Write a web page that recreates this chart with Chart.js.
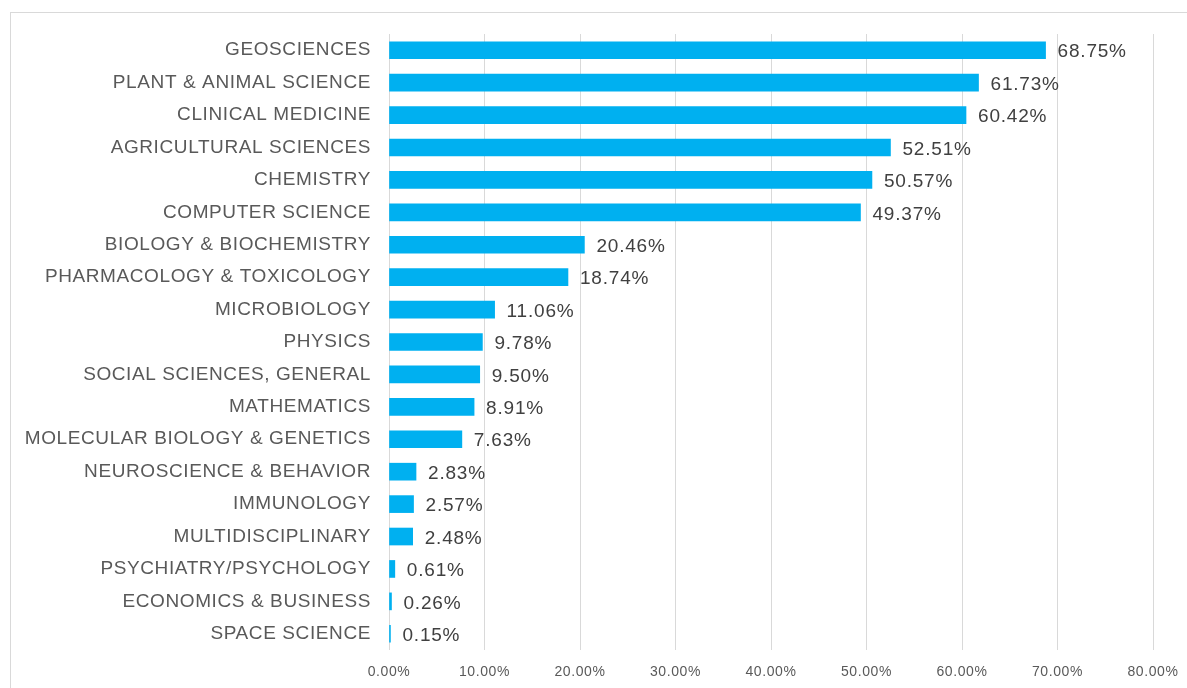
<!DOCTYPE html>
<html>
<head>
<meta charset="utf-8">
<script src="https://cdn.jsdelivr.net/npm/chart.js@4/dist/chart.umd.min.js"></script>
<style>
  html, body { margin: 0; padding: 0; background: #fff; overflow: hidden; }
  #wrap { position: relative; width: 1187px; height: 688px; }
  #frame { position: absolute; left: 10px; top: 12px; width: 1200px; height: 700px; border: 1px solid #d9d9d9; box-sizing: border-box; }
  canvas { position: absolute; left: 0; top: 0; }
</style>
</head>
<body>
<div id="wrap">
  <div id="frame"></div>
  <canvas id="barChart" width="1187" height="688"></canvas>
</div>
<script>
const categories = [
  'GEOSCIENCES', 'PLANT & ANIMAL SCIENCE', 'CLINICAL MEDICINE', 'AGRICULTURAL SCIENCES',
  'CHEMISTRY', 'COMPUTER SCIENCE', 'BIOLOGY & BIOCHEMISTRY', 'PHARMACOLOGY & TOXICOLOGY',
  'MICROBIOLOGY', 'PHYSICS', 'SOCIAL SCIENCES, GENERAL', 'MATHEMATICS',
  'MOLECULAR BIOLOGY & GENETICS', 'NEUROSCIENCE & BEHAVIOR', 'IMMUNOLOGY', 'MULTIDISCIPLINARY',
  'PSYCHIATRY/PSYCHOLOGY', 'ECONOMICS & BUSINESS', 'SPACE SCIENCE'
];
const shares = [
  68.75, 61.73, 60.42, 52.51, 50.57, 49.37, 20.46, 18.74, 11.06, 9.78,
  9.50, 8.91, 7.63, 2.83, 2.57, 2.48, 0.61, 0.26, 0.15
];
const axisMax = 80;
const axisStep = 10;

// the Excel text is a bit spread out, give the canvas some letter spacing
const spacing = {
  id: 'spacing',
  beforeUpdate(chart) { chart.ctx.letterSpacing = '0.6px'; },
  beforeDraw(chart) { chart.ctx.letterSpacing = '0.6px'; }
};

// value labels at the end of each bar
const valueLabels = {
  id: 'valueLabels',
  afterDatasetsDraw(chart) {
    const ctx = chart.ctx;
    const meta = chart.getDatasetMeta(0);
    ctx.save();
    ctx.letterSpacing = '0.8px';
    ctx.font = '19px "Liberation Sans", Arial, sans-serif';
    ctx.fillStyle = '#404040';
    ctx.textAlign = 'left';
    ctx.textBaseline = 'middle';
    meta.data.forEach((bar, i) => {
      ctx.fillText(shares[i].toFixed(2) + '%', bar.x + 12, bar.y + 2);
    });
    ctx.restore();
  }
};

new Chart(document.getElementById('barChart'), {
  type: 'bar',
  data: {
    labels: categories,
    datasets: [{
      data: shares,
      backgroundColor: '#00B0F0',
      borderWidth: 0,
      barThickness: 17
    }]
  },
  options: {
    indexAxis: 'y',
    responsive: false,
    animation: false,
    layout: { padding: { left: 0, right: 34, top: 34, bottom: 0 } },
    plugins: {
      legend: { display: false },
      tooltip: { enabled: false }
    },
    scales: {
      x: {
        min: 0,
        max: axisMax,
        border: { display: false },
        grid: { color: '#d9d9d9', lineWidth: 1, drawTicks: false },
        ticks: {
          stepSize: axisStep,
          padding: 14,
          maxRotation: 0,
          color: '#595959',
          font: { family: '"Liberation Sans", Arial, sans-serif', size: 14 },
          callback: v => v.toFixed(2) + '%'
        },
        afterFit(scale) {
          scale.height = 38;
          scale.paddingLeft = 0;
          scale.paddingRight = 0;
        }
      },
      y: {
        border: { display: false },
        grid: { display: false, drawTicks: false },
        ticks: {
          padding: 18,
          color: '#595959',
          font: { family: '"Liberation Sans", Arial, sans-serif', size: 19 }
        },
        afterFit(scale) { scale.width = 389; }
      }
    }
  },
  plugins: [spacing, valueLabels]
});
</script>
</body>
</html>
